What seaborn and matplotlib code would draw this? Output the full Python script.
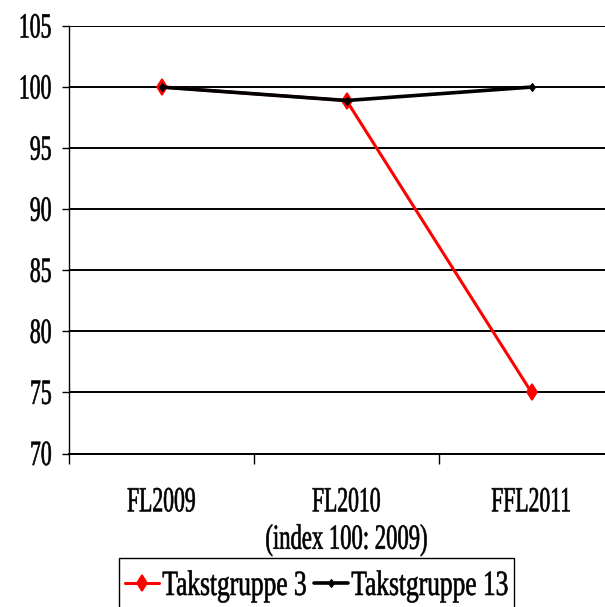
import numpy as np
import pandas as pd
import matplotlib
matplotlib.use("Agg")
import matplotlib.pyplot as plt
import seaborn as sns
from matplotlib.patheffects import AbstractPathEffect
from matplotlib.transforms import Affine2D
from matplotlib.legend_handler import HandlerLine2D
from matplotlib.lines import Line2D

# ---------------- data ----------------
categories = ["FL2009", "FL2010", "FFL2011"]
series_names = ["Takstgruppe 3", "Takstgruppe 13"]
values_tg3 = [100, 98.9, 75]
values_tg13 = [100, 98.9, 100]
y_ticks = [70, 75, 80, 85, 90, 95, 100, 105]
x_label = "(index 100: 2009)"


# ---------------- helpers ----------------
class TallText(AbstractPathEffect):
    """Stretch glyphs vertically (narrow, tall typeface look) and embolden slightly."""
    def __init__(self, sy=1.6, vanchor="baseline", stroke=0.0):
        super().__init__()
        self.sy = sy
        self.vanchor = vanchor
        self.stroke = stroke

    def draw_path(self, renderer, gc, tpath, affine, rgbFace=None):
        ext = tpath.get_extents()
        if self.vanchor == "center":
            cy = 0.5 * (ext.y0 + ext.y1)
        elif self.vanchor == "top":
            cy = ext.y1
        else:
            cy = 0.0
        t = Affine2D().translate(0, -cy).scale(1.0, self.sy).translate(0, cy) + affine
        gc0 = renderer.new_gc()
        gc0.copy_properties(gc)
        if self.stroke > 0 and rgbFace is not None:
            gc0.set_linewidth(self.stroke)
            gc0.set_foreground(rgbFace)
            gc0.set_joinstyle("round")
        renderer.draw_path(gc0, tpath, t, rgbFace)
        gc0.restore()


class ShiftedLine(HandlerLine2D):
    """Legend line handler that moves the handle down by dy points."""
    def __init__(self, dy=0.0, **kw):
        super().__init__(**kw)
        self.dy = dy

    def create_artists(self, legend, orig_handle, xdescent, ydescent,
                       width, height, fontsize, trans):
        return super().create_artists(legend, orig_handle, xdescent,
                                      ydescent + 2 * self.dy, width, height,
                                      fontsize, trans)


sns.set_theme(style="white")
plt.rcParams["font.family"] = ["Liberation Serif", "DejaVu Serif"]

FS_VIS = 25.5            # visual glyph height (pt)
FS_TICK = 15.6           # layout size of tick labels
FS_XLAB = 16.3           # layout size of axis label
FS_LEG = 18.3            # layout size of legend texts
STROKE = 0.45

df3 = pd.DataFrame({"cat": categories, "val": values_tg3})
df13 = pd.DataFrame({"cat": categories, "val": values_tg13})

W, H = 605, 607
fig = plt.figure(figsize=(W / 100, H / 100), dpi=100)
ax = fig.add_axes([69 / W, 1 - 453.5 / H, 555 / W, 427.5 / H])

sns.lineplot(data=df3, x="cat", y="val", ax=ax, color="#ff0000", lw=2.2,
             marker="d", markersize=8, markeredgecolor="#ff0000",
             markerfacecolor="#ff0000", markeredgewidth=1.2,
             label=series_names[0], legend=False, zorder=3)
sns.lineplot(data=df13, x="cat", y="val", ax=ax, color="black", lw=2.6,
             marker="d", markersize=4.5, markeredgecolor="black",
             markerfacecolor="black", markeredgewidth=0.8,
             label=series_names[1], legend=False, zorder=4)

ax.set_xlim(-0.5, 2.5)
ax.set_ylim(70, 105)
ax.set_yticks(y_ticks)
ax.set_yticklabels([str(v) for v in y_ticks])
ax.set_xticks(range(len(categories)))
ax.set_xticklabels(categories)
ax.set_xticks([-0.5, 0.5, 1.5, 2.5], minor=True)

ax.yaxis.grid(True, color="black", lw=1.4)
ax.xaxis.grid(False)
ax.set_axisbelow(True)
for s in ["top", "right"]:
    ax.spines[s].set_visible(False)
ax.spines["left"].set_color("black")
ax.spines["left"].set_linewidth(1.0)
ax.spines["bottom"].set_color("black")
ax.spines["bottom"].set_linewidth(1.4)

ax.tick_params(axis="y", which="major", direction="out", length=5, width=1,
               color="black", pad=7.5, labelsize=FS_TICK, labelcolor="black", left=True)
ax.tick_params(axis="x", which="major", length=0, pad=25, labelsize=FS_TICK,
               labelcolor="black", bottom=True)
ax.tick_params(axis="x", which="minor", direction="out", length=7.5, width=1,
               color="black", bottom=True)

ax.set_xlabel(x_label, fontsize=FS_XLAB, color="black", labelpad=11.9)
ax.set_ylabel("")

for t in ax.get_yticklabels():
    t.set_path_effects([TallText(FS_VIS / FS_TICK, "center", STROKE)])
for t in ax.get_xticklabels():
    t.set_path_effects([TallText(FS_VIS / FS_TICK, "top", STROKE)])
ax.xaxis.label.set_path_effects([TallText(FS_VIS / FS_XLAB, "top", STROKE)])

handles, labels = ax.get_legend_handles_labels()
leg = ax.legend(handles, labels, loc="upper left",
                bbox_to_anchor=(119 / W, 1 - 558 / H),
                bbox_transform=fig.transFigure, ncol=2, fontsize=FS_LEG,
                frameon=True, fancybox=False, shadow=False, framealpha=1,
                edgecolor="black", borderaxespad=0, borderpad=0.235,
                handlelength=1.33, handletextpad=0.14, columnspacing=0.3,
                handleheight=2.43,
                handler_map={Line2D: ShiftedLine(dy=2.2)})
leg.get_frame().set_linewidth(1.0)
for t in leg.get_texts():
    t.set_color("black")
    t.set_path_effects([TallText(FS_VIS / FS_LEG, "baseline", STROKE)])

fig.savefig("out.png", dpi=100, facecolor="white")
